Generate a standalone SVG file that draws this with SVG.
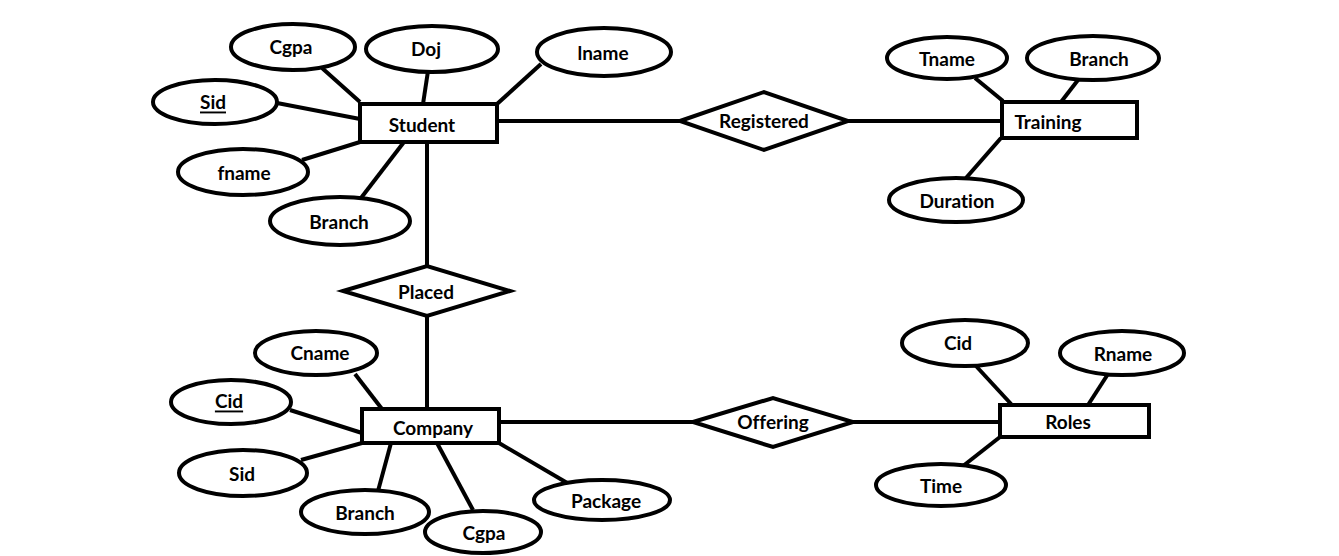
<svg xmlns="http://www.w3.org/2000/svg" width="1339" height="556" viewBox="0 0 1339 556">
<style>
.s{fill:#fff;stroke:#000;stroke-width:4}
.c line{stroke:#000;stroke-width:4}
text{font-family:Lato,"Liberation Sans",sans-serif;font-weight:bold;font-size:19px;fill:#000;text-anchor:middle;dominant-baseline:central;font-variant-ligatures:none}
.u{text-decoration:underline}
</style>
<rect width="1339" height="556" fill="#fff"/>
<g class="c" id="connectors">
<line x1="322" y1="68" x2="360" y2="102"/>
<line x1="428" y1="71" x2="423" y2="104"/>
<line x1="541" y1="64" x2="497" y2="104"/>
<line x1="277" y1="103" x2="360" y2="119"/>
<line x1="302" y1="160" x2="360" y2="142"/>
<line x1="361" y1="198" x2="404" y2="142"/>
<line x1="497" y1="121" x2="680" y2="121"/>
<line x1="427" y1="142" x2="427" y2="268"/>
<line x1="848" y1="121" x2="1002" y2="121"/>
<line x1="975" y1="78" x2="1003" y2="101"/>
<line x1="1078" y1="80" x2="1061" y2="102"/>
<line x1="1001" y1="138" x2="966" y2="178"/>
<line x1="427" y1="314" x2="427" y2="409"/>
<line x1="355" y1="374" x2="382" y2="409"/>
<line x1="290" y1="410" x2="362" y2="433"/>
<line x1="301" y1="460" x2="362" y2="443"/>
<line x1="378" y1="491" x2="391" y2="443"/>
<line x1="473" y1="510" x2="437" y2="443"/>
<line x1="569" y1="484" x2="499" y2="443"/>
<line x1="499" y1="422" x2="693" y2="422"/>
<line x1="852" y1="422" x2="1000" y2="422"/>
<line x1="976" y1="366" x2="1012" y2="405"/>
<line x1="1108" y1="374" x2="1088" y2="405"/>
<line x1="963" y1="466" x2="1000" y2="437"/>
</g>
<g id="student"><rect class="s" x="360" y="104" width="137" height="38"/><text x="422" y="124">Student</text></g>
<g id="cgpa1"><ellipse class="s" cx="293" cy="47" rx="62" ry="23"/><text x="291" y="46">Cgpa</text></g>
<g id="doj"><ellipse class="s" cx="432" cy="49" rx="66" ry="23"/><text x="426" y="48">Doj</text></g>
<g id="lname"><ellipse class="s" cx="604" cy="52" rx="67" ry="24"/><text x="603" y="52">lname</text></g>
<g id="sid1"><ellipse class="s" cx="215" cy="102" rx="62" ry="22"/><text class="u" x="213" y="101">Sid</text></g>
<g id="fname"><ellipse class="s" cx="243" cy="172" rx="65" ry="23"/><text x="244" y="172">fname</text></g>
<g id="branch1"><ellipse class="s" cx="340" cy="221" rx="70" ry="24"/><text x="339" y="221">Branch</text></g>
<g id="registered"><polygon class="s" points="680,121 764,92 848,121 764,150"/><text x="764" y="120">Registered</text></g>
<g id="training"><rect class="s" x="1002" y="102" width="135" height="36"/><text x="1048" y="121">Training</text></g>
<g id="tname"><ellipse class="s" cx="947" cy="58" rx="60" ry="21"/><text x="947" y="58">Tname</text></g>
<g id="branch2"><ellipse class="s" cx="1093" cy="58" rx="66" ry="22"/><text x="1099" y="58">Branch</text></g>
<g id="duration"><ellipse class="s" cx="956" cy="200" rx="67" ry="22"/><text x="957" y="200">Duration</text></g>
<g id="placed"><polygon class="s" points="343,291 427,266 510,291 427,316"/><text x="426" y="291">Placed</text></g>
<g id="company"><rect class="s" x="362" y="409" width="137" height="34"/><text x="433" y="427">Company</text></g>
<g id="cname"><ellipse class="s" cx="316" cy="353" rx="61" ry="22"/><text x="320" y="352">Cname</text></g>
<g id="cid1"><ellipse class="s" cx="231" cy="402" rx="60" ry="22"/><text class="u" x="229" y="400">Cid</text></g>
<g id="sid2"><ellipse class="s" cx="243" cy="473" rx="64" ry="23"/><text x="242" y="473">Sid</text></g>
<g id="branch3"><ellipse class="s" cx="365" cy="512" rx="64" ry="22"/><text x="365" y="512">Branch</text></g>
<g id="cgpa2"><ellipse class="s" cx="483" cy="532" rx="58" ry="21"/><text x="484" y="532">Cgpa</text></g>
<g id="package"><ellipse class="s" cx="602" cy="500" rx="68" ry="20"/><text x="606" y="500">Package</text></g>
<g id="offering"><polygon class="s" points="693,422 773,398 853,422 773,447"/><text x="773" y="421">Offering</text></g>
<g id="roles"><rect class="s" x="1000" y="405" width="149" height="32"/><text x="1068" y="421">Roles</text></g>
<g id="cid2"><ellipse class="s" cx="965" cy="343" rx="63" ry="23"/><text x="958" y="342">Cid</text></g>
<g id="rname"><ellipse class="s" cx="1122" cy="353" rx="62" ry="22"/><text x="1123" y="353">Rname</text></g>
<g id="time"><ellipse class="s" cx="941" cy="485" rx="65" ry="21"/><text x="941" y="485">Time</text></g>
</svg>
